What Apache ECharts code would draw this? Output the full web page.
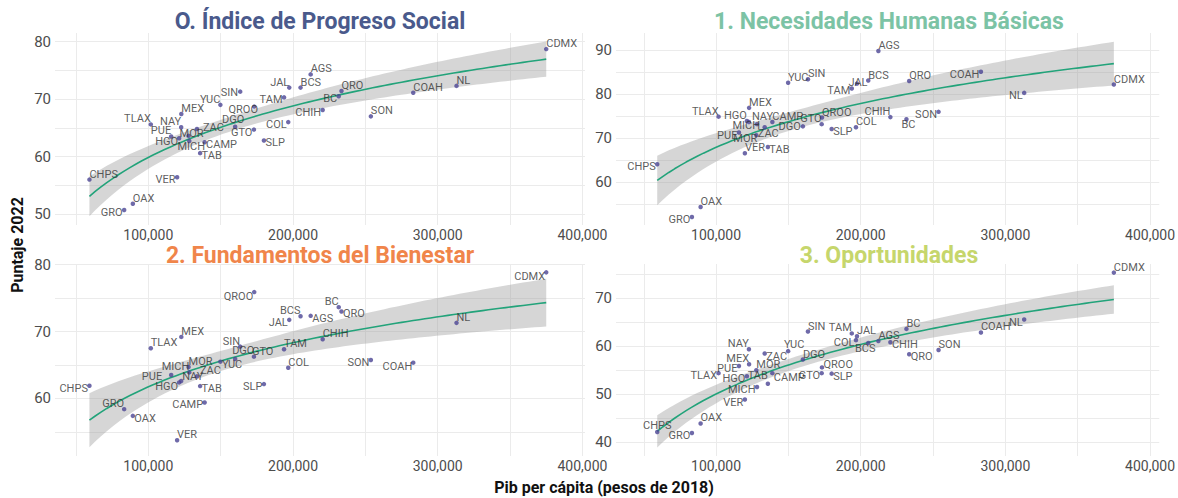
<!DOCTYPE html>
<html>
<head>
<meta charset="utf-8">
<script src="https://cdn.jsdelivr.net/npm/echarts@6/dist/echarts.min.js"></script>
<style>
html, body { margin: 0; padding: 0; background: #fff; }
#grafica { width: 1178px; height: 498px; }
</style>
</head>
<body>
<div id="grafica"></div>
<script>
// datos
const estados = ['AGS', 'BC', 'BCS', 'CAMP', 'COAH', 'COL', 'CHPS', 'CHIH', 'CDMX', 'DGO', 'GTO', 'GRO', 'HGO', 'JAL', 'MEX', 'MICH',
    'MOR', 'NAY', 'NL', 'OAX', 'PUE', 'QRO', 'QROO', 'SLP', 'SIN', 'SON', 'TAB', 'TAM', 'TLAX', 'VER', 'YUC', 'ZAC'];
const pib = [212200, 231600, 205200, 138900, 283100, 196700, 59300, 220500, 375000, 160000, 173000, 83300, 121300, 197400, 122800, 128300,
    127800, 122700, 313000, 89300, 115800, 233500, 173200, 179900, 163500, 253800, 135800, 193800, 101700, 119900, 149800, 133600];
const ips = [74.3, 70.5, 72.0, 62.5, 71.1, 66.0, 56.0, 68.1, 78.7, 65.2, 64.7, 50.7, 63.2, 72.0, 67.4, 62.7,
    63.6, 65.1, 72.3, 51.8, 63.5, 71.4, 68.7, 62.8, 71.3, 67.0, 60.6, 70.3, 65.6, 56.4, 69.0, 64.8];
const nhb = [89.8, 74.3, 83.1, 73.7, 85.1, 72.5, 64.1, 74.8, 82.2, 72.7, 73.2, 52.1, 73.9, 82.4, 76.9, 73.2,
    70.7, 73.7, 80.3, 54.4, 71.3, 83.0, 74.7, 72.1, 83.4, 76.0, 68.0, 81.3, 74.9, 66.6, 82.6, 72.5];
const fb = [72.35, 73.65, 72.3, 59.4, 65.35, 64.6, 61.9, 68.85, 78.85, 65.9, 66.25, 58.4, 62.4, 71.75, 69.2, 63.9,
    64.7, 62.6, 71.3, 57.4, 63.5, 73.0, 75.9, 62.15, 67.75, 65.75, 61.85, 67.35, 67.5, 53.75, 65.5, 63.3];
const op = [61.1, 63.65, 60.7, 54.4, 62.9, 61.3, 42.1, 60.85, 75.4, 57.25, 54.4, 41.9, 53.75, 62.1, 56.25, 51.5,
    55.0, 59.4, 65.6, 43.9, 55.9, 58.35, 55.6, 54.3, 63.1, 59.25, 52.2, 62.7, 54.4, 48.9, 59.0, 58.5];
const titulos = ['O. Índice de Progreso Social', '1. Necesidades Humanas Básicas', '2. Fundamentos del Bienestar', '3. Oportunidades'];

// posición de cada etiqueta respecto a su punto (imitando ggrepel)
// código corto o [alineación, dx, dy]
const etq0 = {CHPS: 'tr', GRO: 'l', OAX: 'tr', VER: 'l', TLAX: 'tl', MEX: 'tr', NAY: 'tl', PUE: 'tl', HGO: ['right', -1, 3],
    MOR: ['center', 3, -2], MICH: ['center', 2, 5], ZAC: ['left', 6, -2], CAMP: 'r', TAB: 'r', YUC: 'tl', SIN: ['right', -2, 1],
    QROO: ['center', -11, 3], DGO: ['center', -2, -7], GTO: 'l', SLP: 'r', COL: 'l', TAM: 'l', JAL: 'tl', BCS: 'tr', AGS: 'tr',
    CHIH: 'l', BC: 'l', QRO: 'tr', SON: 'tr', COAH: 'tr', NL: 'tr', CDMX: 'tr'};
const etq1 = {CHPS: 'l', GRO: 'l', OAX: 'tr', TLAX: 'tl', MEX: 'tr', HGO: 'tl', NAY: ['left', 3, -5.5], CAMP: 'tr',
    MICH: ['right', 3, 1], PUE: 'l', MOR: ['right', 1, 3], ZAC: ['center', 3.5, 6], VER: 'tr', TAB: 'r', DGO: ['right', -2, 0],
    GTO: 'tl', QROO: 'tr', SLP: 'r', YUC: 'tr', SIN: 'tr', TAM: 'l', JAL: ['center', 1, -1], BCS: 'tr', AGS: 'tr', COL: 'tr',
    CHIH: 'tl', QRO: 'tr', COAH: 'l', BC: ['center', 2, 5], SON: 'l', NL: 'l', CDMX: 'tr'};
const etq2 = {CHPS: 'l', GRO: 'tl', OAX: 'r', VER: 'tr', TLAX: 'tr', MEX: 'tr', CAMP: 'l', TAB: 'r', HGO: ['right', -1, 4.5],
    PUE: ['right', -9, 1.5], NAY: ['left', 1, -4.5], MICH: 'tl', MOR: 'tr', ZAC: ['left', 3, -6], YUC: 'r', SIN: 'tl',
    DGO: ['left', -3, -8], GTO: ['left', -2, -5.5], SLP: 'l', QROO: ['right', -1, 4.5], JAL: 'l', BCS: 'tl', AGS: 'r', BC: 'tl',
    QRO: 'r', TAM: 'tr', COL: 'tr', CHIH: 'tr', SON: 'l', COAH: ['right', -1, 4], NL: 'tr', CDMX: ['right', -1, 4]};
const etq3 = {CHPS: 't', GRO: 'l', OAX: 'tr', VER: 'l', MICH: 'l', HGO: 'l', TLAX: 'l', PUE: 'l', MEX: 'tl', NAY: 'tl',
    TAB: ['right', 0, -8], MOR: 'tr', CAMP: ['left', 1.5, 4], ZAC: 'r', YUC: ['center', 6, -6.5], SIN: 'tr', DGO: 'tr', GTO: 'l',
    QROO: ['left', 1.5, -2.5], SLP: 'r', TAM: 'tl', JAL: 'tr', COL: 'l', BCS: ['center', -3, 5], AGS: 'tr', CHIH: 'r', BC: 'tr',
    QRO: 'r', SON: 'tr', COAH: 'tr', NL: 'l', CDMX: 'tr'};

const paneles = [
    {valores: ips, etq: etq0, color: '#4a5a8c', tituloY: 21, grid: {left: 55, top: 33, width: 530, height: 192}, x: [35500, 401800], y: [48.1, 81.5]},
    {valores: nhb, etq: etq1, color: '#7cc3a5', tituloY: 21, grid: {left: 616, top: 33, width: 546, height: 192}, x: [30800, 406400], y: [50.3, 93.9]},
    {valores: fb, etq: etq2, color: '#f0854a', tituloY: 255, grid: {left: 55, top: 264, width: 530, height: 192}, x: [35500, 401800], y: [51.4, 80.1]},
    {valores: op, etq: etq3, color: '#c6d66c', tituloY: 255, grid: {left: 616, top: 264, width: 546, height: 192}, x: [30800, 406400], y: [37.1, 77.2]}
];

const CODIGOS = {
    tr: ['left', 0, -5.5],
    tl: ['right', 0, -5.5],
    r: ['left', 1.5, 2.5],
    l: ['right', -1.5, 2.5],
    t: ['center', 0, -7],
    b: ['center', 0, 5.5]
};

function etiqueta (c) {
    const s = Array.isArray(c) ? c : CODIGOS[c || 'r'];
    return {align: s[0], offset: [s[1], s[2]]};
}

// ajuste lm(y ~ log(x)) con intervalo de confianza 95%, como geom_smooth
function ajuste (xs, ys) {
    const n = xs.length;
    const u = xs.map(Math.log);
    const mu = u.reduce((s, v) => s + v, 0) / n;
    const my = ys.reduce((s, v) => s + v, 0) / n;
    let sxx = 0, sxy = 0;
    for (let i = 0; i < n; i++) {
        sxx += (u[i] - mu) * (u[i] - mu);
        sxy += (u[i] - mu) * (ys[i] - my);
    }
    const b = sxy / sxx;
    const a = my - b * mu;
    let sse = 0;
    for (let i = 0; i < n; i++) sse += Math.pow(ys[i] - a - b * u[i], 2);
    const s = Math.sqrt(sse / (n - 2));
    const t = 2.0423; // qt(0.975, 30)
    const x0 = Math.min(...xs), x1 = Math.max(...xs);
    const linea = [], sup = [], inf = [];
    for (let k = 0; k < 80; k++) {
        const x = x0 + (x1 - x0) * k / 79;
        const lu = Math.log(x);
        const yh = a + b * lu;
        const se = s * Math.sqrt(1 / n + (lu - mu) * (lu - mu) / sxx);
        linea.push([x, yh]);
        sup.push([x, yh + t * se]);
        inf.push([x, yh - t * se]);
    }
    return {linea, sup, inf};
}

const fuente = 'Roboto, "Noto Sans", sans-serif';
const grid = [], xAxis = [], yAxis = [], series = [], graphic = [];

paneles.forEach((p, i) => {
    grid.push(p.grid);
    xAxis.push({
        type: 'value', gridIndex: i, min: p.x[0], max: p.x[1],
        minInterval: 50000, maxInterval: 50000,
        axisLine: {show: false}, axisTick: {show: false},
        splitLine: {show: true, showMinLine: false, showMaxLine: false, lineStyle: {color: '#ebebeb', width: 1}},
        axisLabel: {
            margin: 3, color: '#4d4d4d', fontSize: 14, fontFamily: fuente,
            formatter: v => (Math.abs(v % 100000) < 1e-6 ? v.toLocaleString('en-US') : '')
        }
    });
    yAxis.push({
        type: 'value', gridIndex: i, min: p.y[0], max: p.y[1],
        minInterval: 5, maxInterval: 5,
        axisLine: {show: false}, axisTick: {show: false},
        splitLine: {show: true, showMinLine: false, showMaxLine: false, lineStyle: {color: '#ebebeb', width: 1}},
        axisLabel: {
            margin: 4, color: '#4d4d4d', fontSize: 15, fontFamily: fuente,
            formatter: v => (Math.abs(v % 10) < 1e-6 ? String(v) : '')
        }
    });

    const fit = ajuste(pib, p.valores);
    series.push({
        type: 'custom', xAxisIndex: i, yAxisIndex: i, silent: true, z: 1,
        data: [[fit.linea[0][0], fit.linea[0][1]]],
        renderItem: (params, api) => {
            const pts = fit.sup.map(d => api.coord(d)).concat(fit.inf.slice().reverse().map(d => api.coord(d)));
            return {type: 'polygon', shape: {points: pts}, style: {fill: 'rgba(153,153,153,0.4)'}};
        }
    });
    series.push({
        type: 'line', xAxisIndex: i, yAxisIndex: i, silent: true, z: 2,
        data: fit.linea, showSymbol: false, smooth: false,
        lineStyle: {color: '#22a37a', width: 1.6}
    });
    series.push({
        type: 'scatter', xAxisIndex: i, yAxisIndex: i, z: 3,
        symbolSize: 4.5,
        itemStyle: {color: '#4b4594'},
        label: {
            show: true, position: 'inside', formatter: '{b}',
            color: '#333333', fontSize: 11, fontFamily: fuente, verticalAlign: 'middle'
        },
        data: estados.map((e, k) => ({
            name: e,
            value: [pib[k], p.valores[k]],
            label: etiqueta(p.etq[e])
        }))
    });

    graphic.push({
        type: 'text', x: p.grid.left + p.grid.width / 2, y: p.tituloY,
        style: {
            text: titulos[i], fill: p.color, font: 'bold 23px ' + fuente,
            textAlign: 'center', textVerticalAlign: 'middle'
        }
    });
});

graphic.push({
    type: 'text', x: 604, y: 487,
    style: {text: 'Pib per cápita (pesos de 2018)', fill: '#111', font: 'bold 16px ' + fuente, textAlign: 'center', textVerticalAlign: 'middle'}
});
graphic.push({
    type: 'text', x: 17, y: 245, rotation: Math.PI / 2,
    style: {text: 'Puntaje 2022', fill: '#111', font: 'bold 16px ' + fuente, textAlign: 'center', textVerticalAlign: 'middle'}
});

const grafica = echarts.init(document.getElementById('grafica'), null, {renderer: 'svg'});
grafica.setOption({
    animation: false,
    grid: grid,
    xAxis: xAxis,
    yAxis: yAxis,
    series: series,
    graphic: graphic
});

window.addEventListener('resize', function () {
    grafica.resize();
});
</script>
</body>
</html>
